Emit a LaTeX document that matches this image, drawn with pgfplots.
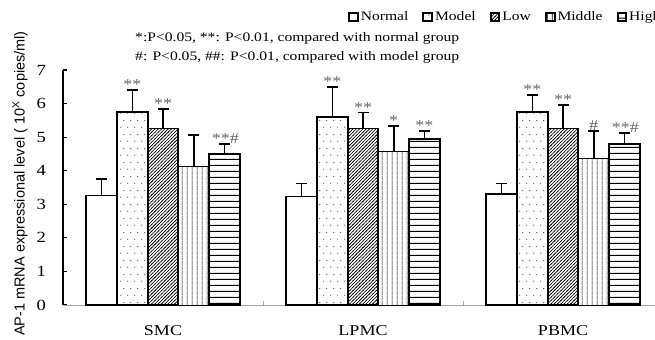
\documentclass[border=0pt]{standalone}
\usepackage{fontspec}
\setmainfont{Liberation Serif}[FakeStretch=1.2]
\newfontfamily\labelsans{Liberation Sans}
\usepackage{pgfplots}
\pgfplotsset{compat=1.18}
\usetikzlibrary{patterns}

\pgfdeclarepatternformonly{sdots}{\pgfqpoint{0bp}{0bp}}{\pgfqpoint{7bp}{14bp}}{\pgfqpoint{7bp}{14bp}}{%
  \pgfpathcircle{\pgfqpoint{2bp}{3bp}}{0.6bp}%
  \pgfpathcircle{\pgfqpoint{5.5bp}{10bp}}{0.6bp}%
  \pgfusepath{fill}}
\pgfdeclarepatternformonly{hatchne}{\pgfqpoint{-1bp}{-1bp}}{\pgfqpoint{4.3bp}{4.3bp}}{\pgfqpoint{3.3bp}{3.3bp}}{%
  \pgfsetlinewidth{0.6bp}%
  \pgfpathmoveto{\pgfqpoint{-0.5bp}{-0.5bp}}\pgfpathlineto{\pgfqpoint{3.8bp}{3.8bp}}%
  \pgfusepath{stroke}}
\pgfdeclarepatternformonly{vlines}{\pgfqpoint{0bp}{0bp}}{\pgfqpoint{5bp}{5bp}}{\pgfqpoint{5bp}{5bp}}{%
  \pgfsetlinewidth{0.8bp}%
  \pgfpathmoveto{\pgfqpoint{2.5bp}{-0.5bp}}\pgfpathlineto{\pgfqpoint{2.5bp}{5.5bp}}%
  \pgfusepath{stroke}}
\pgfdeclarepatternformonly{hlines}{\pgfqpoint{0bp}{0bp}}{\pgfqpoint{5.7bp}{5.7bp}}{\pgfqpoint{5.7bp}{5.7bp}}{%
  \pgfsetlinewidth{1bp}%
  \pgfpathmoveto{\pgfqpoint{-0.5bp}{2.85bp}}\pgfpathlineto{\pgfqpoint{6.2bp}{2.85bp}}%
  \pgfusepath{stroke}}

\newcommand{\mainfs}{\fontsize{13bp}{15bp}\selectfont}

\begin{document}
\begin{tikzpicture}
\useasboundingbox (0,0) rectangle (655bp,340bp);
\begin{axis}[
  at={(63bp,35bp)}, anchor=south west,
  x=200bp, y=33.57bp,
  xmin=0, xmax=3, ymin=0, ymax=7,
  ybar=0pt, bar width=30.7bp,
  axis lines*=left,
  clip=false,
  x axis line style={gray!70, line width=0.6bp},
  y axis line style={black, line width=2bp},
  tick align=inside,
  major tick length=4bp,
  xtick={1,2}, xticklabels={},
  xtick style={gray!70, line width=0.6bp},
  extra x ticks={0.5,1.5,2.5},
  extra x tick labels={SMC,LPMC,PBMC},
  extra x tick style={major tick length=0pt},
  xticklabel style={font=\fontsize{15bp}{17bp}\selectfont, inner sep=0pt, anchor=north, yshift=-20.5bp},
  ytick={0,1,2,3,4,5,6,7},
  ytick style={black, line width=1.2bp},
  yticklabel style={font=\fontsize{15.5bp}{17bp}\selectfont, inner sep=0pt, anchor=east, xshift=-17bp},
  /pgf/number format/assume math mode=true,
  ylabel={AP-1 mRNA expressional level ( 10\textsuperscript{X} copies/ml)},
  every axis y label/.style={at={(axis description cs:-0.0717,0.517)}, rotate=90, anchor=center, font=\labelsans\fontsize{14.5bp}{16bp}\selectfont},
  legend columns=-1,
  legend style={draw=none, fill=none, inner sep=0pt, at={(axis description cs:0.475,1.2255)}, anchor=west, font=\mainfs,
    /tikz/every even column/.append style={column sep=12bp}},
  legend cell align=left,
  legend image code/.code={\draw[#1, line width=2bp] (0bp,-4.3bp) rectangle (8.6bp,4.3bp);},
  error bars/y dir=plus, error bars/y explicit,
  error bars/error bar style={black, line width=1.6bp},
  error bars/error mark options={rotate=90, mark size=5.5bp, line width=1.6bp, black},
]
\addplot[bar shift=-61.4bp, draw=black, line width=1.8bp, fill=white]
  coordinates {(0.5,3.26) +- (0,0.49) (1.5,3.23) +- (0,0.39) (2.5,3.31) +- (0,0.31)};
\addlegendentry{Normal}
\addplot[bar shift=-30.7bp, draw=black, line width=1.8bp, pattern=sdots]
  coordinates {(0.5,5.74) +- (0,0.66) (1.5,5.59) +- (0,0.91) (2.5,5.74) +- (0,0.52)};
\addlegendentry{Model}
\addplot[bar shift=0bp, draw=black, line width=1.8bp, pattern=hatchne]
  coordinates {(0.5,5.26) +- (0,0.57) (1.5,5.26) +- (0,0.47) (2.5,5.26) +- (0,0.70)};
\addlegendentry{Low}
\addplot[bar shift=30.7bp, draw=black, line width=0.8bp, pattern=vlines]
  coordinates {(0.5,4.12) +- (0,0.94) (1.5,4.57) +- (0,0.76) (2.5,4.37) +- (0,0.81)};
\addlegendentry{Middle}
\addplot[bar shift=61.4bp, draw=black, line width=1.8bp, pattern=hlines]
  coordinates {(0.5,4.49) +- (0,0.31) (1.5,4.94) +- (0,0.24) (2.5,4.79) +- (0,0.34)};
\addlegendentry{High}
% significance marks
\addplot[only marks, mark=none, draw=none, fill=none, bar shift=0pt, forget plot,
  nodes near coords, point meta=explicit symbolic,
  nodes near coords style={anchor=base, inner sep=0pt, yshift=0.5bp, text=black!60, font=\fontsize{15bp}{17bp}\selectfont}]
  coordinates {
  (0.3465,6.40) [**] (0.5,5.83) [**] (0.812,4.80) [**\#]
  (1.3465,6.50) [**] (1.5,5.73) [**] (1.6535,5.33) [*] (1.807,5.18) [**]
  (2.3465,6.26) [**] (2.5,5.96) [**] (2.6535,5.18) [\#] (2.812,5.13) [**\#]
  };
\end{axis}
\node[anchor=west, inner sep=0pt, font=\mainfs] at (135bp,302bp) {*:P<0.05, **: P<0.01, compared with normal group};
\node[anchor=west, inner sep=0pt, font=\mainfs] at (135bp,283bp) {\#: P<0.05, \#\#: P<0.01, compared with model group};
\end{tikzpicture}
\end{document}
